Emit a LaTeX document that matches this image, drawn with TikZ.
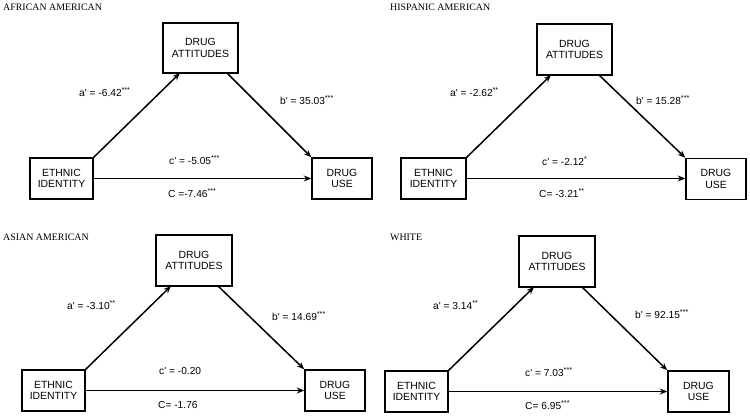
\documentclass[tikz,border=0pt]{standalone}
\usepackage{fontspec}
\setmainfont{Liberation Serif}
\newfontfamily\arialf{Liberation Sans}
\usetikzlibrary{arrows.meta}
\begin{document}
\begin{tikzpicture}[x=1pt,y=-1pt,
  box/.style={draw, line width=1.5pt, align=center, inner sep=0pt,
    font=\arialf\fontsize{10.4}{11.5}\selectfont},
  conn/.style={line width=1.5pt, -{Stealth[length=7.5pt,width=6pt]}},
  lab/.style={anchor=west, inner sep=0pt, font=\arialf\fontsize{10.2}{11}\selectfont},
  ttl/.style={anchor=west, inner sep=0pt, font=\fontsize{9.9}{11}\selectfont}]
\useasboundingbox (0,0) rectangle (750,416);

% ---------- Panel 1: African American ----------
\node[ttl] (t1) at (3,7.5) {AFRICAN AMERICAN};
\node[box, minimum width=75pt, minimum height=50pt] (att1) at (200.5,48) {DRUG\\ATTITUDES};
\node[box, minimum width=63pt, minimum height=41pt] (eth1) at (61.5,178.5) {ETHNIC\\IDENTITY};
\node[box, minimum width=60pt, minimum height=41pt] (use1) at (342,178.5) {DRUG\\USE};
\coordinate (a1) at (180,73);
\coordinate (b1) at (227,73);
\draw[conn] (eth1.north east) -- (a1);
\draw[conn] (b1) -- (use1.north west);
\draw[conn] (eth1.east) -- (use1.west);
\node[lab] (la1) at (79,92) {a' = -6.42\textsuperscript{***}};
\node[lab] (lb1) at (280,100) {b' = 35.03\textsuperscript{***}};
\node[lab] (lc1) at (169,160) {c' = -5.05\textsuperscript{***}};
\node[lab] (lC1) at (168,193) {C =-7.46\textsuperscript{***}};

% ---------- Panel 2: Hispanic American ----------
\node[ttl] (t2) at (390,7.5) {HISPANIC AMERICAN};
\node[box, minimum width=75pt, minimum height=51pt] (att2) at (574.5,49.5) {DRUG\\ATTITUDES};
\node[box, minimum width=65pt, minimum height=41pt] (eth2) at (433.5,178.5) {ETHNIC\\IDENTITY};
\node[box, minimum width=60pt, minimum height=41pt] (use2) at (716,179) {DRUG\\USE};
\coordinate (a2) at (551,75);
\coordinate (b2) at (599,75);
\draw[conn] (eth2.north east) -- (a2);
\draw[conn] (b2) -- (use2.north west);
\draw[conn] (eth2.east) -- (use2.west |- eth2.east);
\node[lab] (la2) at (450,92) {a' = -2.62\textsuperscript{**}};
\node[lab] (lb2) at (636,100) {b' = 15.28\textsuperscript{***}};
\node[lab] (lc2) at (542,161) {c' = -2.12\textsuperscript{*}};
\node[lab] (lC2) at (539,193) {C= -3.21\textsuperscript{**}};

% ---------- Panel 3: Asian American ----------
\node[ttl] (t3) at (3,237) {ASIAN AMERICAN};
\node[box, minimum width=76pt, minimum height=51pt] (att3) at (194,260.5) {DRUG\\ATTITUDES};
\node[box, minimum width=63pt, minimum height=41pt] (eth3) at (53.5,390.5) {ETHNIC\\IDENTITY};
\node[box, minimum width=60pt, minimum height=41pt] (use3) at (335,390.5) {DRUG\\USE};
\coordinate (a3) at (171,286);
\coordinate (b3) at (218,286);
\draw[conn] (eth3.north east) -- (a3);
\draw[conn] (b3) -- (use3.north west);
\draw[conn] (eth3.east) -- (use3.west);
\node[lab] (la3) at (67,305) {a' = -3.10\textsuperscript{**}};
\node[lab] (lb3) at (272,316) {b' = 14.69\textsuperscript{***}};
\node[lab] (lc3) at (159,371) {c' = -0.20};
\node[lab] (lC3) at (158,405) {C= -1.76};

% ---------- Panel 4: White ----------
\node[ttl] (t4) at (390,237) {WHITE};
\node[box, minimum width=76pt, minimum height=51pt] (att4) at (557,261.5) {DRUG\\ATTITUDES};
\node[box, minimum width=63pt, minimum height=41pt] (eth4) at (416.5,391.5) {ETHNIC\\IDENTITY};
\node[box, minimum width=61pt, minimum height=41pt] (use4) at (698.5,391.5) {DRUG\\USE};
\coordinate (a4) at (534,287);
\coordinate (b4) at (582,287);
\draw[conn] (eth4.north east) -- (a4);
\draw[conn] (b4) -- (use4.north west);
\draw[conn] (eth4.east) -- (use4.west);
\node[lab] (la4) at (433,305) {a' = 3.14\textsuperscript{**}};
\node[lab] (lb4) at (635,314) {b' = 92.15\textsuperscript{***}};
\node[lab] (lc4) at (525,372) {c' = 7.03\textsuperscript{***}};
\node[lab] (lC4) at (525,405) {C= 6.95\textsuperscript{***}};
\end{tikzpicture}
\end{document}
